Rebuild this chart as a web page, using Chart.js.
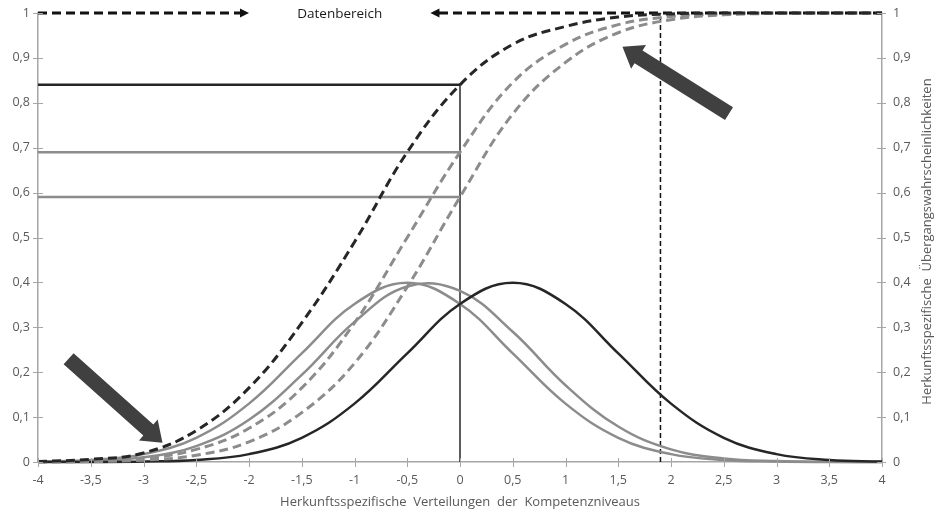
<!DOCTYPE html>
<html lang="de">
<head>
<meta charset="utf-8">
<title>Verteilungen und Übergangswahrscheinlichkeiten</title>
<script src="https://cdn.jsdelivr.net/npm/chart.js@4.4.0/dist/chart.umd.min.js"></script>
<style>
  html, body { margin: 0; padding: 0; background: #fff; }
  #wrap { width: 937px; height: 512px; position: relative; }
</style>
</head>
<body>
<div id="wrap"><canvas id="chart"></canvas></div>
<script>
// Kompetenzniveaus (x-Werte der Kurven)
const kompetenz = [-4, -3.5, -3, -2.5, -2, -1.5, -1, -0.5, 0, 0.5, 1, 1.5, 2, 2.5, 3, 3.5, 4];

// Herkunftsspezifische Verteilungen (durchgezogen)
const vertSchwarz = [0, 0.0001, 0.001, 0.0044, 0.0175, 0.054, 0.13, 0.242, 0.352, 0.399, 0.352, 0.242, 0.13, 0.054, 0.0175, 0.0044, 0.001];
const vertGrau1   = [0.001, 0.0044, 0.0175, 0.054, 0.13, 0.242, 0.352, 0.399, 0.352, 0.242, 0.13, 0.054, 0.0175, 0.0044, 0.001, 0.0001, 0];
const vertGrau2   = [0.0004, 0.0024, 0.0104, 0.0355, 0.094, 0.194, 0.312, 0.391, 0.381, 0.29, 0.171, 0.079, 0.028, 0.008, 0.002, 0.0003, 0];

// Übergangswahrscheinlichkeiten (gestrichelt)
const uebSchwarz = [0.001, 0.006, 0.02, 0.07, 0.165, 0.31, 0.49, 0.69, 0.84, 0.93, 0.97, 0.991, 0.998, 1, 1, 1, 1];
const uebGrau1   = [0, 0.002, 0.008, 0.028, 0.075, 0.165, 0.31, 0.5, 0.69, 0.845, 0.93, 0.974, 0.992, 0.998, 1, 1, 1];
const uebGrau2   = [0, 0.001, 0.004, 0.015, 0.045, 0.11, 0.22, 0.39, 0.59, 0.775, 0.89, 0.956, 0.985, 0.996, 0.999, 1, 1];

// Hilfslinien
const ablesePunkt = 0;
const ableseWerte = [0.84, 0.69, 0.59];
const bereichGrenze = 1.9;
const bereichLinksX = [-4, -2.0];
const bereichRechtsX = [4, -0.28];
const bereichText = 'Datenbereich';

// Achsen
const xMin = -4, xMax = 4, xSchritt = 0.5;
const yMin = 0, yMax = 1, ySchritt = 0.1;
const xTitel = 'Herkunftsspezifische  Verteilungen  der  Kompetenzniveaus';
const y2Titel = 'Herkunftsspezifische  Übergangswahrscheinlichkeiten';

// große Hinweispfeile (in Datenkoordinaten)
const hinweisPfeile = [
    { von: [-3.71, 0.23], bis: [-2.82, 0.043] },
    { von: [2.55, 0.776], bis: [1.54, 0.925] }
];

const SCHWARZ = '#262626';
const GRAU = '#8c8c8c';
const ACHSE = '#a6a6a6';
const TEXT = '#595959';

function punkte(werte) {
    return kompetenz.map((x, i) => ({ x, y: werte[i] }));
}

function komma(v) {
    return String(Math.round(v * 10) / 10).replace('.', ',');
}

function kurve(werte, farbe, gestrichelt) {
    return {
        data: punkte(werte),
        borderColor: farbe,
        borderWidth: gestrichelt ? 3 : 2.5,
        borderDash: gestrichelt ? [9, 5] : [],
        borderCapStyle: 'butt',
        pointRadius: 0,
        fill: false,
        clip: false,
        tension: 0.4
    };
}

function strecke(pts, farbe, breite, dash) {
    return {
        data: pts,
        borderColor: farbe,
        borderWidth: breite,
        borderDash: dash || [],
        pointRadius: 0,
        fill: false,
        clip: false,
        tension: 0
    };
}

function blockPfeil(ctx, x0, y0, x1, y1, schaft, kopfBreite, kopfLaenge) {
    const dx = x1 - x0, dy = y1 - y0, len = Math.hypot(dx, dy);
    const ux = dx / len, uy = dy / len, nx = -uy, ny = ux;
    const hx = x1 - ux * kopfLaenge, hy = y1 - uy * kopfLaenge;
    ctx.beginPath();
    ctx.moveTo(x0 + nx * schaft / 2, y0 + ny * schaft / 2);
    ctx.lineTo(hx + nx * schaft / 2, hy + ny * schaft / 2);
    ctx.lineTo(hx + nx * kopfBreite / 2, hy + ny * kopfBreite / 2);
    ctx.lineTo(x1, y1);
    ctx.lineTo(hx - nx * kopfBreite / 2, hy - ny * kopfBreite / 2);
    ctx.lineTo(hx - nx * schaft / 2, hy - ny * schaft / 2);
    ctx.lineTo(x0 - nx * schaft / 2, y0 - ny * schaft / 2);
    ctx.closePath();
    ctx.fill();
}

// Pfeile, Text, Tick-Striche und rechter Achsentitel
const anmerkungen = {
    id: 'anmerkungen',
    afterDraw(chart) {
        const { ctx, chartArea, scales } = chart;
        const { x, y } = scales;
        ctx.save();

        // Tick-Striche (über die Achse hinweg)
        ctx.strokeStyle = ACHSE;
        ctx.lineWidth = 1;
        ctx.beginPath();
        x.ticks.forEach(t => {
            const px = Math.round(x.getPixelForValue(t.value)) + 0.5;
            ctx.moveTo(px, chartArea.bottom - 4);
            ctx.lineTo(px, chartArea.bottom + 5);
        });
        y.ticks.forEach(t => {
            const py = Math.round(y.getPixelForValue(t.value)) + 0.5;
            ctx.moveTo(chartArea.left - 5, py);
            ctx.lineTo(chartArea.left + 5, py);
            ctx.moveTo(chartArea.right - 5, py);
            ctx.lineTo(chartArea.right + 4, py);
        });
        ctx.stroke();

        // Pfeilspitzen der Datenbereich-Linie
        ctx.fillStyle = '#111';
        const yTop = y.getPixelForValue(1);
        const lx = x.getPixelForValue(bereichLinksX[1]);
        const rx = x.getPixelForValue(bereichRechtsX[1]);
        ctx.beginPath();
        ctx.moveTo(lx, yTop);
        ctx.lineTo(lx - 9, yTop - 4.5);
        ctx.lineTo(lx - 9, yTop + 4.5);
        ctx.closePath();
        ctx.fill();
        ctx.beginPath();
        ctx.moveTo(rx, yTop);
        ctx.lineTo(rx + 9, yTop - 4.5);
        ctx.lineTo(rx + 9, yTop + 4.5);
        ctx.closePath();
        ctx.fill();

        ctx.font = "13.5px 'Open Sans', sans-serif";
        ctx.fillStyle = '#1a1a1a';
        ctx.textAlign = 'center';
        ctx.textBaseline = 'middle';
        ctx.fillText(bereichText, (lx + rx) / 2, yTop + 1);

        // große Hinweispfeile
        ctx.fillStyle = '#404040';
        hinweisPfeile.forEach(p => {
            blockPfeil(ctx,
                x.getPixelForValue(p.von[0]), y.getPixelForValue(p.von[1]),
                x.getPixelForValue(p.bis[0]), y.getPixelForValue(p.bis[1]),
                15, 28, 19);
        });

        // rechter Achsentitel (von unten nach oben)
        ctx.translate(chart.width - 10, (chartArea.top + chartArea.bottom) / 2 + 4);
        ctx.rotate(-Math.PI / 2);
        ctx.font = "13px 'Open Sans', sans-serif";
        ctx.fillStyle = TEXT;
        ctx.fillText(y2Titel, 0, 0);
        ctx.restore();
    }
};

Chart.defaults.font.family = "'Open Sans', sans-serif";
Chart.defaults.font.size = 12.5;
Chart.defaults.color = TEXT;

const datasets = [
    kurve(uebSchwarz, SCHWARZ, true),
    kurve(uebGrau1, GRAU, true),
    kurve(uebGrau2, GRAU, true),
    kurve(vertSchwarz, SCHWARZ, false),
    kurve(vertGrau1, GRAU, false),
    kurve(vertGrau2, GRAU, false),
    strecke([{ x: xMin, y: ableseWerte[0] }, { x: ablesePunkt, y: ableseWerte[0] }], SCHWARZ, 2.5),
    strecke([{ x: xMin, y: ableseWerte[1] }, { x: ablesePunkt, y: ableseWerte[1] }], GRAU, 2.5),
    strecke([{ x: xMin, y: ableseWerte[2] }, { x: ablesePunkt, y: ableseWerte[2] }], GRAU, 2.5),
    strecke([{ x: ablesePunkt, y: 0 }, { x: ablesePunkt, y: ableseWerte[0] }], SCHWARZ, 1.5),
    strecke([{ x: bereichGrenze, y: 0 }, { x: bereichGrenze, y: 1 }], '#111', 1.5, [5, 3]),
    strecke([{ x: bereichLinksX[0], y: 1 }, { x: bereichLinksX[1] - 0.06, y: 1 }], '#111', 2.8, [9, 5]),
    strecke([{ x: bereichRechtsX[0], y: 1 }, { x: bereichRechtsX[1] + 0.06, y: 1 }], '#111', 2.8, [9, 5])
];

// feste Breite und kein Zusatzabstand oben/unten für die y-Achsen
function yFit(breite) {
    return s => {
        s.width = breite;
        s.paddingTop = 0;
        s.paddingBottom = 0;
    };
}

new Chart(document.getElementById('chart'), {
    type: 'line',
    data: { datasets },
    options: {
        responsive: true,
        maintainAspectRatio: false,
        animation: false,
        layout: { padding: { top: 13, left: 0, right: 0, bottom: 0 } },
        plugins: {
            legend: { display: false },
            tooltip: { enabled: false }
        },
        scales: {
            x: {
                type: 'linear',
                min: xMin,
                max: xMax,
                grid: { display: false, drawTicks: false },
                border: { color: ACHSE, width: 1.5 },
                ticks: {
                    stepSize: xSchritt,
                    autoSkip: false,
                    maxRotation: 0,
                    padding: 11,
                    callback: v => komma(v)
                },
                title: {
                    display: true,
                    text: xTitel,
                    font: { size: 13 },
                    padding: { top: 0, bottom: 2 }
                },
                afterFit: s => { s.height = 50; s.paddingLeft = 0; s.paddingRight = 0; }
            },
            y: {
                type: 'linear',
                position: 'left',
                min: yMin,
                max: yMax,
                grid: { display: false, drawTicks: false },
                border: { color: ACHSE, width: 1.5 },
                ticks: { stepSize: ySchritt, padding: 8, callback: v => komma(v) },
                afterFit: yFit(38)
            },
            y2: {
                type: 'linear',
                position: 'right',
                min: yMin,
                max: yMax,
                grid: { display: false, drawTicks: false },
                border: { color: ACHSE, width: 1.5 },
                ticks: { stepSize: ySchritt, padding: 11, callback: v => komma(v) },
                afterFit: yFit(55)
            }
        }
    },
    plugins: [anmerkungen]
});
</script>
</body>
</html>
